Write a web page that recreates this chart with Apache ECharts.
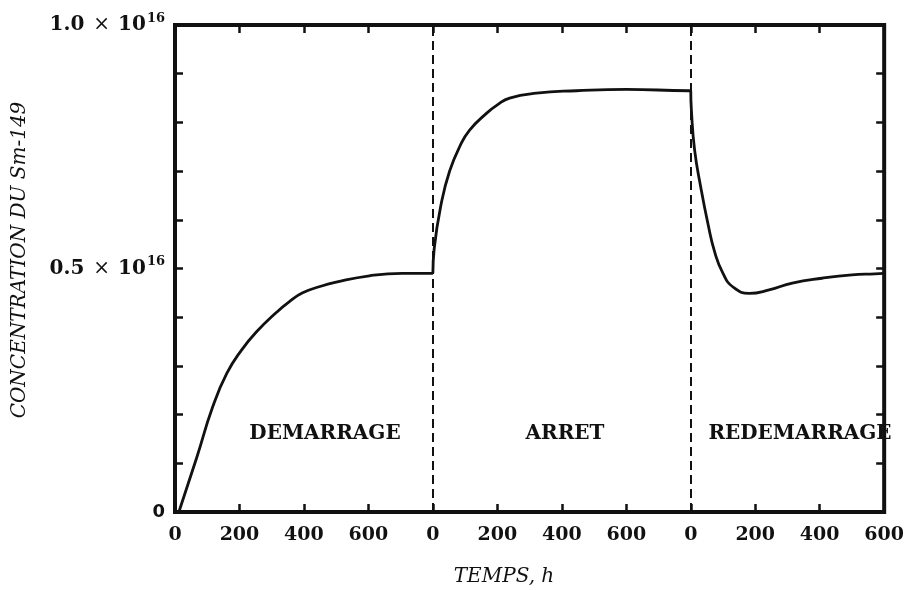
<!DOCTYPE html>
<html>
<head>
<meta charset="utf-8">
<title>Concentration du Sm-149</title>
<script src="https://cdn.jsdelivr.net/npm/echarts@6/dist/echarts.min.js"></script>
<style>
  html, body { margin: 0; padding: 0; background: #ffffff; }
  #chart { width: 907px; height: 590px; }
</style>
</head>
<body>
<div id="chart"></div>
<script>
// Sm-149 concentration (units of 1e16) versus time, hours counted on one continuous axis.
// Each phase spans 800 h; the tick labels restart at 0 at every phase boundary.
const phaseLength = 800;
const phaseBoundaries = [800, 1600];
const phaseNames = ['DEMARRAGE', 'ARRET', 'REDEMARRAGE'];

// Start-up phase
const demarrageHours  = [12, 68, 117, 161, 207, 253, 315, 355, 396, 450, 500, 603, 705, 800];
const demarrageValues = [0, 0.113, 0.216, 0.285, 0.333, 0.37, 0.41, 0.432, 0.45, 0.463, 0.472, 0.485, 0.49, 0.49];

// Shutdown phase
const arretHours  = [800, 804, 828, 853, 883, 914, 967, 1000, 1038, 1121, 1245, 1400, 1594, 1600];
const arretValues = [0.49, 0.54, 0.64, 0.702, 0.75, 0.784, 0.819, 0.836, 0.85, 0.86, 0.865, 0.868, 0.865, 0.865];

// Restart phase
const redemarrageHours  = [1600, 1602, 1612, 1631, 1653, 1675, 1700, 1731, 1782, 1843, 1915, 2007, 2100, 2171, 2200];
const redemarrageValues = [0.865, 0.825, 0.743, 0.667, 0.593, 0.532, 0.49, 0.462, 0.449, 0.456, 0.47, 0.48, 0.487, 0.489, 0.49];

// Axis ranges and labelled y ticks
const xMax = 2200;
const xStep = 200;
const yMax = 1.0;
const yStep = 0.1;
const yLabelValues = [0, 0.5, 1.0];
const yLabelTexts = ['0', '0.5', '1.0'];
const yExponent = '16';

const ink = '#111111';
const serif = '"DejaVu Serif", "Liberation Serif", serif';

function pairs(xs, ys) {
  return xs.map((x, i) => [x, ys[i]]);
}

function curve(name, xs, ys) {
  return {
    type: 'line',
    name: name,
    data: pairs(xs, ys),
    smooth: 0.5,
    showSymbol: false,
    silent: true,
    lineStyle: { color: ink, width: 2.8 },
    z: 3
  };
}

// inward ticks on all four sides of the frame
function ticks() {
  return {
    show: true,
    inside: true,
    length: 8,
    lineStyle: { color: ink, width: 2.5 }
  };
}

const chart = echarts.init(document.getElementById('chart'), null, { renderer: 'canvas' });

const startSeries = curve(phaseNames[0], demarrageHours, demarrageValues);
startSeries.markLine = {
  silent: true,
  symbol: 'none',
  label: { show: false },
  lineStyle: { color: ink, width: 2, type: [9, 5] },
  data: phaseBoundaries.map(b => ({ xAxis: b }))
};

chart.setOption({
  backgroundColor: '#ffffff',
  animation: false,
  grid: {
    left: 175, top: 25, width: 713, height: 487,
    show: true,
    borderColor: ink,
    borderWidth: 4,
    backgroundColor: 'transparent'
  },
  xAxis: [
    {
      type: 'value', position: 'bottom',
      min: 0, max: xMax, interval: xStep,
      axisLine: { show: false, onZero: false },
      axisTick: ticks(),
      splitLine: { show: false },
      axisLabel: {
        margin: 14,
        color: ink,
        fontFamily: serif,
        fontWeight: 'bold',
        fontSize: 19,
        formatter: v => String(v % phaseLength)
      }
    },
    {
      type: 'value', position: 'top',
      min: 0, max: xMax, interval: xStep,
      axisLine: { show: false, onZero: false },
      axisTick: ticks(),
      splitLine: { show: false },
      axisLabel: { show: false }
    }
  ],
  yAxis: [
    {
      type: 'value', position: 'left',
      min: 0, max: yMax, interval: yStep,
      axisLine: { show: false, onZero: false },
      axisTick: ticks(),
      splitLine: { show: false },
      axisLabel: {
        margin: 10,
        color: ink,
        formatter: v => {
          const k = yLabelValues.findIndex(t => Math.abs(t - v) < 1e-9);
          if (k < 0) return '';
          if (yLabelValues[k] === 0) return '{z|' + yLabelTexts[k] + '}';
          return '{b|' + yLabelTexts[k] + '}{t|×}{b|10}{s|' + yExponent + '}';
        },
        rich: {
          z: { fontFamily: '"DejaVu Sans", sans-serif', fontWeight: 'bold', fontSize: 18, color: ink },
          b: { fontFamily: serif, fontWeight: 'bold', fontSize: 20, lineHeight: 26, color: ink },
          t: { fontFamily: serif, fontWeight: 'normal', fontSize: 20, lineHeight: 26, padding: [0, 8, 0, 9], color: ink },
          s: { fontFamily: serif, fontWeight: 'bold', fontSize: 13, lineHeight: 13, verticalAlign: 'top', padding: [0, 0, 0, 1], color: ink }
        }
      }
    },
    {
      type: 'value', position: 'right',
      min: 0, max: yMax, interval: yStep,
      axisLine: { show: false, onZero: false },
      axisTick: ticks(),
      splitLine: { show: false },
      axisLabel: { show: false }
    }
  ],
  series: [
    startSeries,
    curve(phaseNames[1], arretHours, arretValues),
    curve(phaseNames[2], redemarrageHours, redemarrageValues)
  ],
  graphic: [
    {
      type: 'text', x: 20, y: 260, rotation: Math.PI / 2,
      style: {
        text: 'CONCENTRATION DU Sm-149',
        fill: ink, font: 'italic 20px ' + serif,
        align: 'center', verticalAlign: 'middle'
      }
    },
    {
      type: 'text', x: 504, y: 577,
      style: {
        text: 'TEMPS, h',
        fill: ink, font: 'italic 20px ' + serif,
        align: 'center', verticalAlign: 'middle'
      }
    },
    {
      type: 'text', x: 325, y: 434, z: 10,
      style: { text: phaseNames[0], fill: ink, font: 'bold 20px ' + serif, align: 'center', verticalAlign: 'middle' }
    },
    {
      type: 'text', x: 565, y: 434, z: 10,
      style: { text: phaseNames[1], fill: ink, font: 'bold 20px ' + serif, align: 'center', verticalAlign: 'middle' }
    },
    {
      type: 'text', x: 800, y: 434, z: 10,
      style: { text: phaseNames[2], fill: ink, font: 'bold 20px ' + serif, align: 'center', verticalAlign: 'middle' }
    }
  ]
});
</script>
</body>
</html>
